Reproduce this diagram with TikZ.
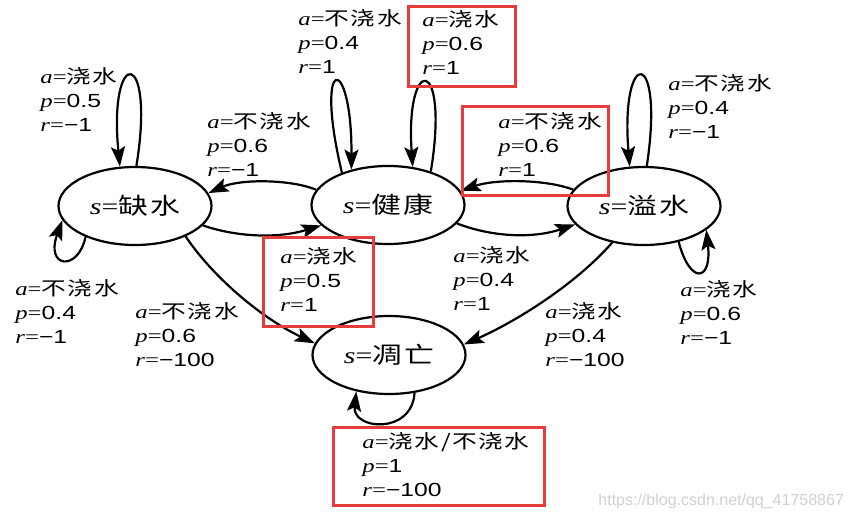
\documentclass[tikz,border=0pt]{standalone}
\usepackage{fontspec}
\setmainfont{Liberation Serif}[FakeStretch=1.3]
\newfontfamily\numf{Liberation Sans}[FakeStretch=1.3]
\newfontfamily\cjk{Noto Sans CJK SC}[FakeStretch=1.3,LetterSpace=8]
\newfontfamily\wmf{Liberation Sans}
\usetikzlibrary{arrows.meta,shapes.geometric}
\newcommand\lbl[3]{\textit{a}={\cjk #1}\\\textit{p}={\numf #2}\\\textit{r}={\numf #3}}
\definecolor{boxred}{RGB}{232,60,60}
\tikzset{
  stnode/.style={ellipse,draw,line width=1.1pt,minimum width=76.5pt,minimum height=39pt,inner sep=0pt,font=\fontsize{11.5}{13}\selectfont},
  lab/.style={anchor=north west,align=left,inner sep=0pt,font=\fontsize{9.5}{12}\selectfont},
  arr/.style={line width=1.1pt,-{Stealth[length=10pt,width=7pt,inset=2pt]}},
  redbox/.style={draw=boxred,line width=1.5pt}
}
\begin{document}
\begin{tikzpicture}[x=0.5pt,y=-0.5pt]
\fill[white] (0,0) rectangle (850,519);
\useasboundingbox (0,0) rectangle (850,519);

\node[stnode] (qs) at (135,206) {\textit{s}={\cjk 缺水}};
\node[stnode] (jk) at (388,205) {\textit{s}={\cjk 健康}};
\node[stnode] (yi) at (644,206) {\textit{s}={\cjk 溢水}};
\node[stnode] (dw) at (389,355) {\textit{s}={\cjk 凋亡}};

% loops
\draw[arr] (qs.88) .. controls (156,46) and (108,46) .. (qs.111);
\draw[arr] (qs.212) .. controls (78,272) and (45,268) .. (qs.191);
\draw[arr] (jk.145) .. controls (313,52) and (352,52) .. (jk.136);
\draw[arr] (jk.38) .. controls (450,54) and (405,54) .. (jk.57);
\draw[arr] (yi.86) .. controls (665,46) and (620,46) .. (yi.110);
\draw[arr] (yi.-46) .. controls (690,285) and (712,282) .. (yi.-21);
\draw[arr] (dw.-56) .. controls (412,435) and (352,430) .. (dw.-132);

% transitions
\draw[arr] (jk.168) .. controls (290,179) and (240,179) .. (qs.10);
\draw[arr] (qs.-16) .. controls (240,238) and (280,238) .. (jk.197);
\draw[arr] (jk.-15) .. controls (495,238) and (535,238) .. (yi.195);
\draw[arr] (yi.167) .. controls (545,179) and (495,179) .. (jk.11);
\draw[arr] (qs.-31) .. controls (215,280) and (265,320) .. (dw.171);
\draw[arr] (yi.-131) .. controls (575,285) and (515,322) .. (dw.8);

% labels
\node[lab] (l1) at (40,67) {\lbl{浇水}{0.5}{−1}};
\node[lab] (l2) at (15,279) {\lbl{不浇水}{0.4}{−1}};
\node[lab] (l3) at (207,112) {\lbl{不浇水}{0.6}{−1}};
\node[lab] (l4) at (280,247) {\lbl{浇水}{0.5}{1}};
\node[lab] (l5) at (298,9) {\lbl{不浇水}{0.4}{1}};
\node[lab] (l6) at (422,10) {\lbl{浇水}{0.6}{1}};
\node[lab] (l7) at (498,112) {\lbl{不浇水}{0.6}{1}};
\node[lab] (l8) at (453,246) {\lbl{浇水}{0.4}{1}};
\node[lab] (l9) at (668,74) {\lbl{不浇水}{0.4}{−1}};
\node[lab] (l10) at (680,280) {\lbl{浇水}{0.6}{−1}};
\node[lab] (l11) at (135,302) {\lbl{不浇水}{0.6}{−100}};
\node[lab] (l12) at (545,302) {\lbl{浇水}{0.4}{−100}};
\node[lab] (l13) at (362,432) {\lbl{浇水/不浇水}{1}{−100}};

% red highlight boxes
\draw[redbox] (408,7) rectangle (515,87);
\draw[redbox] (462,107) rectangle (608,195);
\draw[redbox] (263,237) rectangle (373,326);
\draw[redbox] (333,427) rectangle (544,505);

\node[anchor=base west,inner sep=0pt,font=\wmf\fontsize{8}{8}\selectfont,text=black!18] (wm) at (598,505) {https://blog.csdn.net/qq\_41758867};
\end{tikzpicture}
\end{document}
